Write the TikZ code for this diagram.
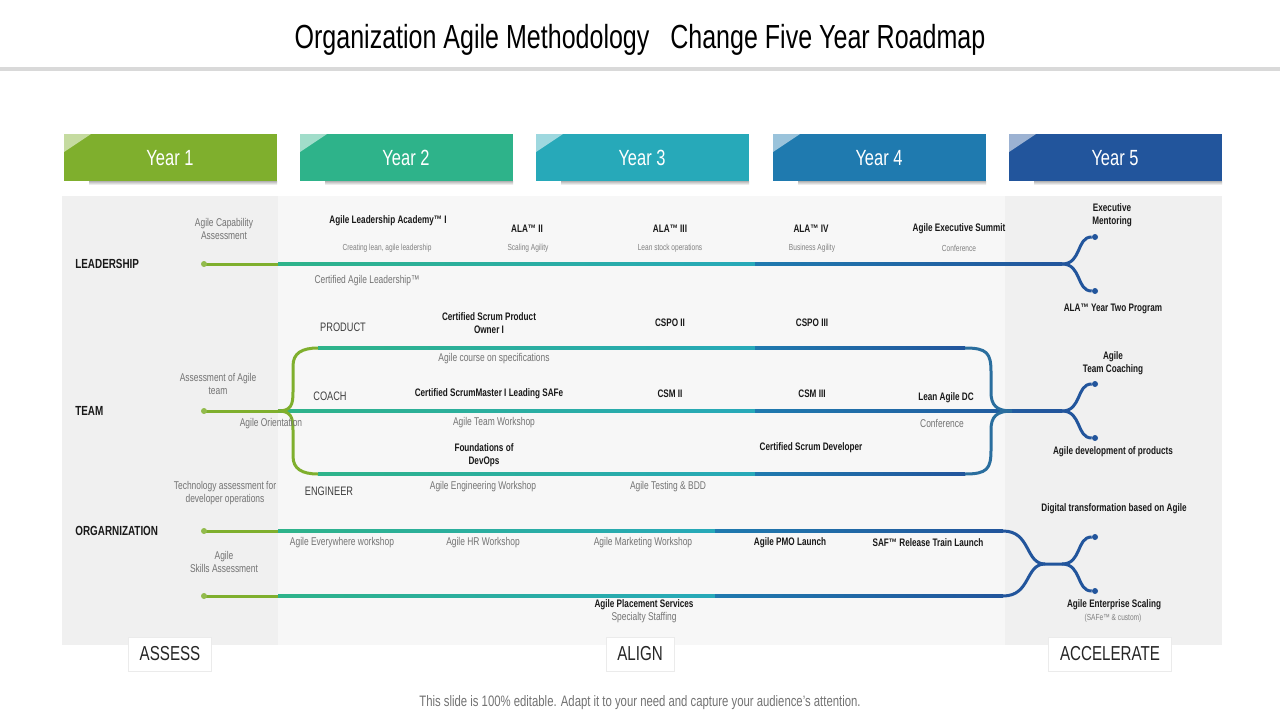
\documentclass[tikz,border=0pt]{standalone}
\usepackage{fontspec}
\setmainfont{Liberation Sans}[FakeStretch=0.75]
\usetikzlibrary{positioning}
\definecolor{yone}{HTML}{7FAF2D}
\definecolor{ytwo}{HTML}{2EB38A}
\definecolor{ythree}{HTML}{27A9B9}
\definecolor{yfour}{HTML}{1F7AAF}
\definecolor{yfive}{HTML}{22559C}
\definecolor{tbrace}{HTML}{2A6E9E}
\begin{document}
\begin{tikzpicture}[x=0.02cm, y=-0.02cm,
    year/.style={text=white, font=\fontsize{12.5}{14}\selectfont},
    head/.style={anchor=west, inner sep=0, text=black!90, font=\bfseries\fontsize{7.5}{9}\selectfont},
    role/.style={inner sep=0, text=black!75, font=\fontsize{7}{8}\selectfont},
    item/.style={inner sep=0, align=center, text=black!90, font=\bfseries\fontsize{6.2}{7.4}\selectfont},
    note/.style={inner sep=0, align=center, text=black!55, font=\fontsize{6.4}{7.4}\selectfont},
    small/.style={inner sep=0, align=center, text=black!50, font=\fontsize{5}{6}\selectfont},
    phase/.style={draw=black!8, fill=white, text=black!85, minimum height=0.68cm, font=\fontsize{11.5}{13}\selectfont},
    track/.style={line width=0.06cm},
    dot/.style={circle, inner sep=0, minimum size=0.12cm, fill=#1}]
\useasboundingbox[fill=white] (0,0) rectangle (1280,720);

% title
\node[font=\fontsize{19}{21}\selectfont] (title) at (640,40) {Organization Agile Methodology \ \ Change Five Year Roadmap};
\fill[black!15] (0,67) rectangle (1280,71);

% year headers
\foreach \i/\x/\c in {1/64/yone, 2/300/ytwo, 3/536/ythree, 4/773/yfour, 5/1009/yfive} {
  \shade[top color=black!30, bottom color=white] (\x+25,181) rectangle (\x+213,185);
  \fill[\c] (\x,134) rectangle (\x+213,181);
  \fill[\c!45!white] (\x,134) -- (\x+27,134) -- (\x,152) -- cycle;
  \node[year] (y\i) at (\x+106,158) {Year \i};
}

% panels
\fill[black!6] (62,196) rectangle (278,645);
\fill[black!3] (278,196) rectangle (1005,645);
\fill[black!6] (1005,196) rectangle (1222,645);

% tracks
\foreach \y in {264,411,531,596}
  \fill[yone] (204,\y-1.5) rectangle (278,\y+1.5);
\foreach \y/\a/\m/\b in {264/278/755/1062, 411/278/755/1062, 348/318/755/965, 474/318/755/965, 531/278/715/1003, 596/278/715/1003} {
  \shade[left color=ytwo, right color=ythree] (\a,\y-1.5) rectangle (\m,\y+1.5);
  \shade[left color=yfour, right color=yfive] (\m,\y-1.5) rectangle (\b,\y+1.5);
}
\foreach \y/\n in {264/ls, 411/ts, 531/os, 596/ps}
  \node[dot=yone!85!white] (\n) at (204,\y) {};

% team fork (left)
\coordinate (tl) at (278,411);
\coordinate (t1s) at (318,348);
\coordinate (t3s) at (318,474);
\draw[track, yone] (tl) .. controls (291,411) and (293,405) .. (293,392) -- (293,366) .. controls (293,353) and (302,348) .. (t1s);
\draw[track, yone] (tl) .. controls (291,411) and (293,417) .. (293,430) -- (293,456) .. controls (293,469) and (302,474) .. (t3s);

% team brace (right)
\coordinate (t1e) at (965,348);
\coordinate (t3e) at (965,474);
\coordinate (tj) at (1012,411);
\draw[track, tbrace] (t1e) .. controls (987,348) and (991,353) .. (991,372) -- (991,392) .. controls (991,405) and (996,411) .. (tj);
\draw[track, tbrace] (t3e) .. controls (987,474) and (991,469) .. (991,450) -- (991,430) .. controls (991,417) and (996,411) .. (tj);

% organization merge
\coordinate (o1e) at (1003,531);
\coordinate (o2e) at (1003,596);
\coordinate (oj) at (1045,564);
\coordinate (of) at (1062,564);
\draw[track, yfive] (o1e) .. controls +(28,0) and +(-20,0) .. (oj) -- (of);
\draw[track, yfive] (o2e) .. controls +(28,0) and +(-20,0) .. (oj);

% forks (right)
\coordinate (lf) at (1062,264);
\coordinate (tf) at (1062,411);
\node[dot=yfive] (lu) at (1095,237) {};
\node[dot=yfive] (ld) at (1095,291) {};
\node[dot=yfive] (tu) at (1095,384) {};
\node[dot=yfive] (td) at (1095,438) {};
\node[dot=yfive] (ou) at (1095,537) {};
\node[dot=yfive] (od) at (1095,591) {};
\foreach \f/\e in {lf/lu, lf/ld, tf/tu, tf/td, of/ou, of/od}
  \draw[track, yfive] (\f) .. controls +(20,0) and +(-19,0) .. (\e);

% row heads
\node[head] (lead) at (75,264) {LEADERSHIP};
\node[head] (team) at (75,411) {TEAM};
\node[head] (org) at (75,531) {ORGARNIZATION};
\node[role] (prod) at (343,327) {PRODUCT};
\node[role] (coach) at (330,396) {COACH};
\node[role] (eng) at (329,491) {ENGINEER};

% leadership
\node[note] (lcap) at (224,229) {Agile Capability\\Assessment};
\node[item] (ala1) at (388,221) {Agile Leadership Academy™ I};
\node[small] (ala1n) at (387,248) {Creating lean, agile leadership};
\node[item] (ala2) at (527,229) {ALA™ II};
\node[small] (ala2n) at (528,248) {Scaling Agility};
\node[item] (ala3) at (670,229) {ALA™ III};
\node[small] (ala3n) at (670,248) {Lean stock operations};
\node[item] (ala4) at (811,229) {ALA™ IV};
\node[small] (ala4n) at (812,248) {Business Agility};
\node[item] (sum) at (959,229) {Agile Executive Summit};
\node[small] (sumn) at (959,248) {Conference};
\node[note] (cal) at (367,281) {Certified Agile Leadership™};
\node[item] (exm) at (1112,215) {Executive\\Mentoring};
\node[item] (ayt) at (1113,309) {ALA™ Year Two Program};

% team
\node[item] (cspo1) at (489,323) {Certified Scrum Product\\Owner I};
\node[item] (cspo2) at (670,323) {CSPO II};
\node[item] (cspo3) at (812,323) {CSPO III};
\node[note] (spec) at (494,359) {Agile course on specifications};
\node[note] (tass) at (218,384) {Assessment of Agile\\team};
\node[item] (csm1) at (489,394) {Certified ScrumMaster I Leading SAFe};
\node[item] (csm2) at (670,394) {CSM II};
\node[item] (csm3) at (812,394) {CSM III};
\node[item] (ladc) at (946,398) {Lean Agile DC};
\node[note] (ladcn) at (942,423) {Conference};
\node[note] (orient) at (271,424) {Agile Orientation};
\node[note] (tws) at (494,423) {Agile Team Workshop};
\node[item] (devops) at (484,455) {Foundations of\\DevOps};
\node[item] (csd) at (811,448) {Certified Scrum Developer};
\node[note] (tech) at (225,493) {Technology assessment for\\developer operations};
\node[note] (ews) at (483,487) {Agile Engineering Workshop};
\node[note] (bdd) at (668,487) {Agile Testing \& BDD};
\node[item] (atc) at (1113,363) {Agile\\Team Coaching};
\node[item] (adp) at (1113,452) {Agile development of products};

% organization
\node[note] (every) at (342,543) {Agile Everywhere workshop};
\node[note] (hr) at (483,543) {Agile HR Workshop};
\node[note] (mkt) at (643,543) {Agile Marketing Workshop};
\node[item] (pmo) at (790,543) {Agile PMO Launch};
\node[item] (rtl) at (928,543) {SAF™ Release Train Launch};
\node[note] (skills) at (224,562) {Agile\\Skills Assessment};
\node[item] (aps) at (644,605) {Agile Placement Services};
\node[note] (staff) at (644,618) {Specialty Staffing};
\node[item] (dtr) at (1114,509) {Digital transformation based on Agile};
\node[item] (aes) at (1114,605) {Agile Enterprise Scaling};
\node[small] (aesn) at (1113,618) {(SAFe™ \& custom)};

% phases
\node[phase, minimum width=1.66cm] (assess) at (170,654) {ASSESS};
\node[phase, minimum width=1.36cm] (align) at (640,654) {ALIGN};
\node[phase, minimum width=2.46cm] (accel) at (1110,654) {ACCELERATE};

\node[text=black!55, font=\fontsize{8.6}{10}\selectfont] (foot) at (640,703) {This slide is 100\% editable. Adapt it to your need and capture your audience’s attention.};
\end{tikzpicture}
\end{document}
